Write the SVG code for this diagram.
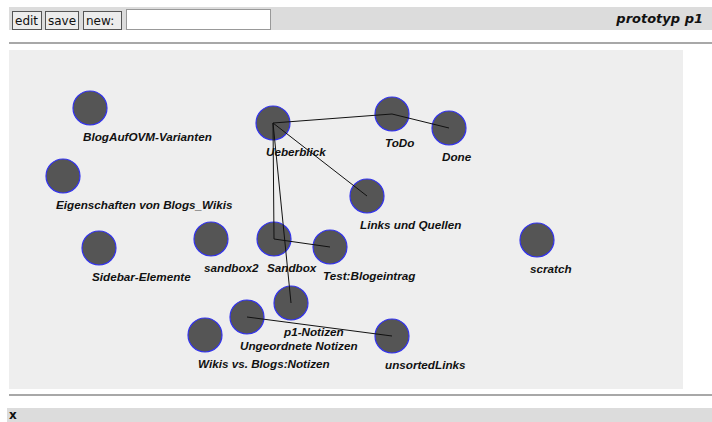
<svg xmlns="http://www.w3.org/2000/svg" width="712" height="422" viewBox="0 0 712 422">
  <style>
    .bar { fill: #dcdcdc; }
    .rule { stroke: #a8a8a8; stroke-width: 2; }
    .btn { fill: #ececec; stroke: #555; stroke-width: 1; }
    .btntext { font-family: "DejaVu Sans", Verdana, sans-serif; font-size: 12px; fill: #111; }
    .title { font-family: "DejaVu Sans", Verdana, sans-serif; font-size: 13px; font-weight: bold; font-style: italic; fill: #111; }
    .node circle { fill: #555555; stroke: #3333ee; stroke-width: 1.2; }
    .node text { font-family: "Liberation Sans", Arial, sans-serif; font-size: 11.7px; font-weight: bold; font-style: italic; fill: #111; }
    .edges line { stroke: #111; stroke-width: 1; }
  </style>

  <rect width="712" height="422" fill="#ffffff"/>

  <!-- toolbar -->
  <rect class="bar" x="9" y="7" width="703" height="23"/>
  <rect class="btn" x="12.5" y="11.5" width="29" height="18"/>
  <text class="btntext" x="15" y="24.5">edit</text>
  <rect class="btn" x="45.5" y="11.5" width="33" height="18"/>
  <text class="btntext" x="48" y="24.5">save</text>
  <rect class="btn" x="83.5" y="11.5" width="38" height="18"/>
  <text class="btntext" x="86" y="24.5">new:</text>
  <rect x="126.5" y="9.5" width="144" height="20" fill="#ffffff" stroke="#999" stroke-width="1"/>
  <text class="title" x="703" y="22.5" text-anchor="end">prototyp p1</text>

  <line class="rule" x1="9" y1="43" x2="712" y2="43"/>

  <!-- canvas -->
  <rect x="9" y="50" width="674" height="339" fill="#eeeeee"/>

  <!-- nodes -->
  <g id="n-blogaufovm" class="node"><circle cx="90" cy="108" r="17"/><text x="83" y="141">BlogAufOVM-Varianten</text></g>
  <g id="n-eigenschaften" class="node"><circle cx="63" cy="176" r="17"/><text x="56" y="209">Eigenschaften von Blogs_Wikis</text></g>
  <g id="n-ueberblick" class="node"><circle cx="273" cy="123" r="17"/><text x="266" y="156">Ueberblick</text></g>
  <g id="n-todo" class="node"><circle cx="392" cy="114" r="17"/><text x="385" y="147">ToDo</text></g>
  <g id="n-done" class="node"><circle cx="449" cy="128" r="17"/><text x="442" y="161">Done</text></g>
  <g id="n-links" class="node"><circle cx="367" cy="196" r="17"/><text x="360" y="229">Links und Quellen</text></g>
  <g id="n-sidebar" class="node"><circle cx="99" cy="248" r="17"/><text x="92" y="281">Sidebar-Elemente</text></g>
  <g id="n-sandbox2" class="node"><circle cx="211" cy="239" r="17"/><text x="204" y="272">sandbox2</text></g>
  <g id="n-sandbox" class="node"><circle cx="274" cy="239" r="17"/><text x="267" y="272">Sandbox</text></g>
  <g id="n-test" class="node"><circle cx="330" cy="247" r="17"/><text x="323" y="280">Test:Blogeintrag</text></g>
  <g id="n-scratch" class="node"><circle cx="537" cy="240" r="17"/><text x="530" y="273">scratch</text></g>
  <g id="n-p1" class="node"><circle cx="291" cy="303" r="17"/><text x="284" y="336">p1-Notizen</text></g>
  <g id="n-ungeordnet" class="node"><circle cx="247" cy="317" r="17"/><text x="240" y="350">Ungeordnete Notizen</text></g>
  <g id="n-wikis" class="node"><circle cx="205" cy="335" r="17"/><text x="198" y="368">Wikis vs. Blogs:Notizen</text></g>
  <g id="n-unsorted" class="node"><circle cx="392" cy="336" r="17"/><text x="385" y="369">unsortedLinks</text></g>

  <!-- connectors -->
  <g id="edges" class="edges">
    <line x1="273" y1="123" x2="392" y2="114"/>
    <line x1="392" y1="114" x2="449" y2="128"/>
    <line x1="273" y1="123" x2="367" y2="196"/>
    <line x1="273" y1="123" x2="274" y2="239"/>
    <line x1="274" y1="239" x2="330" y2="247"/>
    <line x1="273" y1="123" x2="291" y2="303"/>
    <line x1="247" y1="317" x2="392" y2="336"/>
  </g>

  <line class="rule" x1="9" y1="395" x2="712" y2="395"/>

  <!-- status bar -->
  <rect class="bar" x="7" y="408" width="705" height="14"/>
  <text class="btntext" x="9" y="419" font-size="11" font-weight="bold">x</text>
</svg>
